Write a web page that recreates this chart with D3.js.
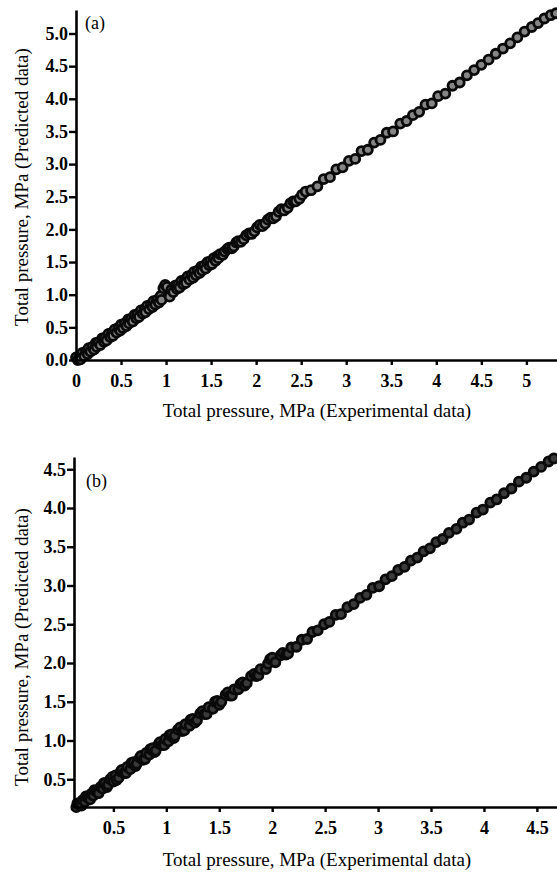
<!DOCTYPE html>
<meta charset="utf-8">
<style>
  body { margin: 0; background: #fff; }
  svg text { font-family: "Liberation Serif", "Times New Roman", serif; }
</style>
<script src="https://d3js.org/d3.v7.min.js"></script>
<div id="my_dataviz"></div>
<script>

// panel (a): [experimental, predicted] total pressure, MPa
var pointsA = [
  [0.00,0.04],[0.02,0.00],[0.04,0.06],[0.05,0.01],[0.07,0.11],[0.09,0.06],[0.11,0.13],[0.13,0.09],
  [0.14,0.18],[0.16,0.13],[0.18,0.20],[0.20,0.16],[0.22,0.26],[0.23,0.20],[0.25,0.27],[0.27,0.23],
  [0.29,0.33],[0.31,0.28],[0.32,0.34],[0.34,0.30],[0.36,0.40],[0.38,0.35],[0.40,0.42],[0.41,0.37],
  [0.43,0.47],[0.45,0.42],[0.47,0.49],[0.49,0.45],[0.50,0.54],[0.52,0.49],[0.54,0.56],[0.56,0.52],
  [0.58,0.62],[0.59,0.56],[0.61,0.63],[0.63,0.59],[0.65,0.69],[0.67,0.64],[0.68,0.70],[0.70,0.66],
  [0.72,0.76],[0.74,0.71],[0.76,0.78],[0.77,0.73],[0.79,0.83],[0.81,0.78],[0.83,0.85],[0.85,0.81],
  [0.86,0.90],[0.88,0.85],[0.90,0.92],[0.92,0.88],[0.94,0.98],[0.95,0.92],[0.97,1.10],[0.99,1.15],
  [1.01,1.12],[1.03,1.00],[1.04,0.97],[1.06,1.08],[1.08,1.04],[1.10,1.14],[1.12,1.09],[1.13,1.15],
  [1.15,1.11],[1.17,1.21],[1.19,1.16],[1.21,1.23],[1.22,1.18],[1.24,1.28],[1.26,1.23],[1.28,1.30],
  [1.30,1.26],[1.31,1.35],[1.33,1.30],[1.35,1.37],[1.37,1.33],[1.39,1.43],[1.40,1.37],[1.42,1.44],
  [1.44,1.40],[1.46,1.50],[1.48,1.45],[1.49,1.51],[1.51,1.47],[1.53,1.56],[1.55,1.52],[1.57,1.59],
  [1.58,1.56],[1.60,1.62],
  [1.63,1.61],[1.68,1.70],[1.73,1.71],[1.78,1.80],[1.83,1.81],[1.89,1.91],[1.95,1.93],[2.01,2.03],
  [2.07,2.05],[2.13,2.15],[2.19,2.17],[2.25,2.27],[2.31,2.29],[2.38,2.40],[2.44,2.43],[2.51,2.53],
  [1.65,1.66],[1.70,1.72],[1.75,1.74],[1.80,1.82],[1.86,1.85],[1.92,1.94],[1.98,1.97],[2.04,2.07],
  [2.10,2.09],[2.16,2.18],[2.22,2.20],[2.28,2.31],[2.35,2.33],[2.41,2.43],[2.48,2.47],[2.55,2.58],
  [2.61,2.60],[2.68,2.66],[2.75,2.77],[2.82,2.80],[2.89,2.92],[2.96,2.95],[3.03,3.05],[3.10,3.08],
  [3.17,3.20],[3.24,3.22],[3.31,3.33],[3.38,3.37],[3.45,3.48],[3.52,3.50],[3.60,3.62],[3.67,3.66],
  [3.74,3.75],[3.81,3.80],[3.88,3.91],[3.95,3.93],[4.02,4.04],[4.10,4.08],[4.18,4.20],[4.26,4.25],
  [4.34,4.36],[4.42,4.44],[4.50,4.52],[4.58,4.60],[4.66,4.69],[4.74,4.77],[4.82,4.85],[4.90,4.94],
  [4.98,5.03],[5.06,5.10],[5.13,5.16],[5.20,5.23],[5.27,5.28],[5.33,5.31]
];

// panel (b): [experimental, predicted] total pressure, MPa
var pointsB = [
  [0.15,0.14],[0.17,0.18],[0.19,0.17],[0.21,0.23],[0.23,0.21],[0.25,0.27],[0.27,0.25],[0.29,0.31],
  [0.31,0.29],[0.33,0.35],[0.35,0.33],[0.38,0.40],[0.40,0.38],[0.42,0.45],[0.45,0.43],[0.47,0.50],
  [0.50,0.47],[0.52,0.55],[0.55,0.52],[0.57,0.60],[0.60,0.58],[0.63,0.66],[0.66,0.63],[0.69,0.72],
  [0.72,0.70],[0.75,0.78],[0.78,0.75],[0.81,0.84],[0.84,0.82],[0.87,0.90],[0.90,0.87],[0.93,0.96],
  [0.96,0.94],[0.99,1.02],[1.02,0.99],[1.05,1.08],[1.08,1.06],[1.11,1.14],[1.15,1.12],[1.18,1.21],
  [1.22,1.19],[1.25,1.28],[1.29,1.26],[1.32,1.35],[1.36,1.34],[1.40,1.43],[1.44,1.41],[1.48,1.51],
  [1.52,1.50],[1.56,1.59],[1.60,1.58],[1.64,1.66],[1.68,1.66],[1.72,1.75],[1.76,1.74],[1.80,1.83],
  [1.85,1.83],[1.89,1.92],[1.94,1.92],[1.98,2.05],[2.03,2.01],[2.08,2.10],[2.13,2.11],[2.18,2.20],
  [0.16,0.19],[0.20,0.16],[0.24,0.28],[0.28,0.24],[0.32,0.36],[0.36,0.32],[0.41,0.45],[0.44,0.40],
  [0.49,0.53],[0.53,0.49],[0.58,0.62],[0.62,0.58],[0.67,0.71],[0.71,0.67],[0.76,0.80],[0.80,0.76],
  [0.85,0.89],[0.89,0.85],[0.94,0.98],[0.98,0.94],[1.03,1.07],[1.07,1.03],[1.13,1.17],[1.17,1.13],
  [1.23,1.27],[1.27,1.23],[1.34,1.38],[1.38,1.34],[1.46,1.50],[1.50,1.46],[1.58,1.62],[1.62,1.58],
  [1.70,1.73],[1.74,1.71],[1.83,1.86],[1.87,1.84],[1.96,1.99],[2.00,2.07],[2.10,2.13],[2.15,2.12],
  [2.23,2.21],[2.28,2.30],[2.33,2.31],[2.38,2.40],[2.43,2.42],[2.49,2.50],[2.54,2.53],[2.60,2.62],
  [2.65,2.63],[2.71,2.72],[2.77,2.76],[2.83,2.84],[2.89,2.88],[2.95,2.97],[3.01,2.99],[3.07,3.08],
  [3.13,3.12],[3.19,3.20],[3.25,3.24],[3.31,3.32],[3.37,3.36],[3.43,3.44],[3.49,3.48],[3.55,3.56],
  [3.61,3.60],[3.67,3.68],[3.74,3.73],[3.80,3.81],[3.86,3.85],[3.93,3.94],[3.99,3.98],[4.06,4.07],
  [4.12,4.11],[4.19,4.19],[4.26,4.25],[4.33,4.34],[4.40,4.39],[4.47,4.47],[4.54,4.53],[4.61,4.60],
  [4.66,4.64]
];

// tick labels
var xTicksA = [0, 0.5, 1, 1.5, 2, 2.5, 3, 3.5, 4, 4.5, 5];
var yTicksA = [0, 0.5, 1, 1.5, 2, 2.5, 3, 3.5, 4, 4.5, 5];
var xTicksB = [0.5, 1, 1.5, 2, 2.5, 3, 3.5, 4, 4.5];
var yTicksB = [0.5, 1, 1.5, 2, 2.5, 3, 3.5, 4, 4.5];

var xTitle = "Total pressure, MPa (Experimental data)";
var yTitle = "Total pressure, MPa (Predicted data)";

var svg = d3.select("#my_dataviz")
  .append("svg")
    .attr("width", 557)
    .attr("height", 874);

function panel(opt) {
  var x = d3.scaleLinear().domain(opt.xDomain).range(opt.xRange);
  var y = d3.scaleLinear().domain(opt.yDomain).range(opt.yRange);

  var g = svg.append("g");

  if (opt.diag) {
    var lo = Math.max(opt.xDomain[0], opt.yDomain[0]);
    var hi = Math.min(opt.xDomain[1], opt.yDomain[1]);
    g.append("line")
      .attr("x1", x(lo)).attr("y1", y(lo))
      .attr("x2", x(hi)).attr("y2", y(hi))
      .attr("stroke", "#000")
      .attr("stroke-width", 1.2);
  }

  // draw in order of the experimental value so overlapping markers stack along the line
  var sorted = opt.data.slice().sort(function(a, b) { return a[0] - b[0]; });

  g.selectAll("circle")
    .data(sorted)
    .enter()
    .append("circle")
      .attr("cx", function(d) { return x(d[0]); })
      .attr("cy", function(d) { return y(d[1]); })
      .attr("r", 4.5)
      .attr("fill", opt.fill)
      .attr("stroke", "#0a0a0a")
      .attr("stroke-width", 2.8);

  var xa = g.append("g")
    .attr("transform", "translate(0," + opt.yRange[0] + ")")
    .call(d3.axisBottom(x).tickValues(opt.xTicks).tickSize(5).tickSizeOuter(0).tickPadding(9.5)
      .tickFormat(d3.format("")));
  var ya = g.append("g")
    .attr("transform", "translate(" + opt.xRange[0] + ",0)")
    .call(d3.axisLeft(y).tickValues(opt.yTicks).tickSize(7).tickSizeOuter(0).tickPadding(1)
      .tickFormat(d3.format(".1f")));

  [xa, ya].forEach(function(a) {
    a.select(".domain").attr("stroke", "#000").attr("stroke-width", 2.6);
    a.selectAll(".tick line").attr("stroke", "#000").attr("stroke-width", 2.4);
    a.selectAll(".tick text")
      .attr("fill", "#000")
      .style("font-family", "'Liberation Serif', serif")
      .style("font-size", "18px")
      .style("font-weight", "bold");
  });

  g.append("text")
    .attr("x", 317)
    .attr("y", opt.xTitleY)
    .attr("text-anchor", "middle")
    .style("font-size", "19px")
    .text(xTitle);

  g.append("text")
    .attr("transform", "translate(28," + opt.yTitleY + ") rotate(-90)")
    .attr("text-anchor", "middle")
    .style("font-size", "19px")
    .text(yTitle);

  g.append("text")
    .attr("x", opt.tagX)
    .attr("y", opt.tagY)
    .style("font-size", "18px")
    .text(opt.tag);
}

panel({
  data: pointsA,
  xDomain: [0, 5.34], xRange: [76, 557],
  yDomain: [0, 5.36], yRange: [360, 10],
  xTicks: xTicksA, yTicks: yTicksA,
  fill: "#858585",
  xTitleY: 417, yTitleY: 187,
  tag: "(a)", tagX: 85, tagY: 29
});

panel({
  data: pointsB,
  xDomain: [0.128, 4.69], xRange: [74, 557],
  yDomain: [0.142, 4.658], yRange: [807, 457],
  xTicks: xTicksB, yTicks: yTicksB,
  fill: "#3a3a3a",
  diag: true,
  xTitleY: 866, yTitleY: 647,
  tag: "(b)", tagX: 86, tagY: 487
});

</script>
